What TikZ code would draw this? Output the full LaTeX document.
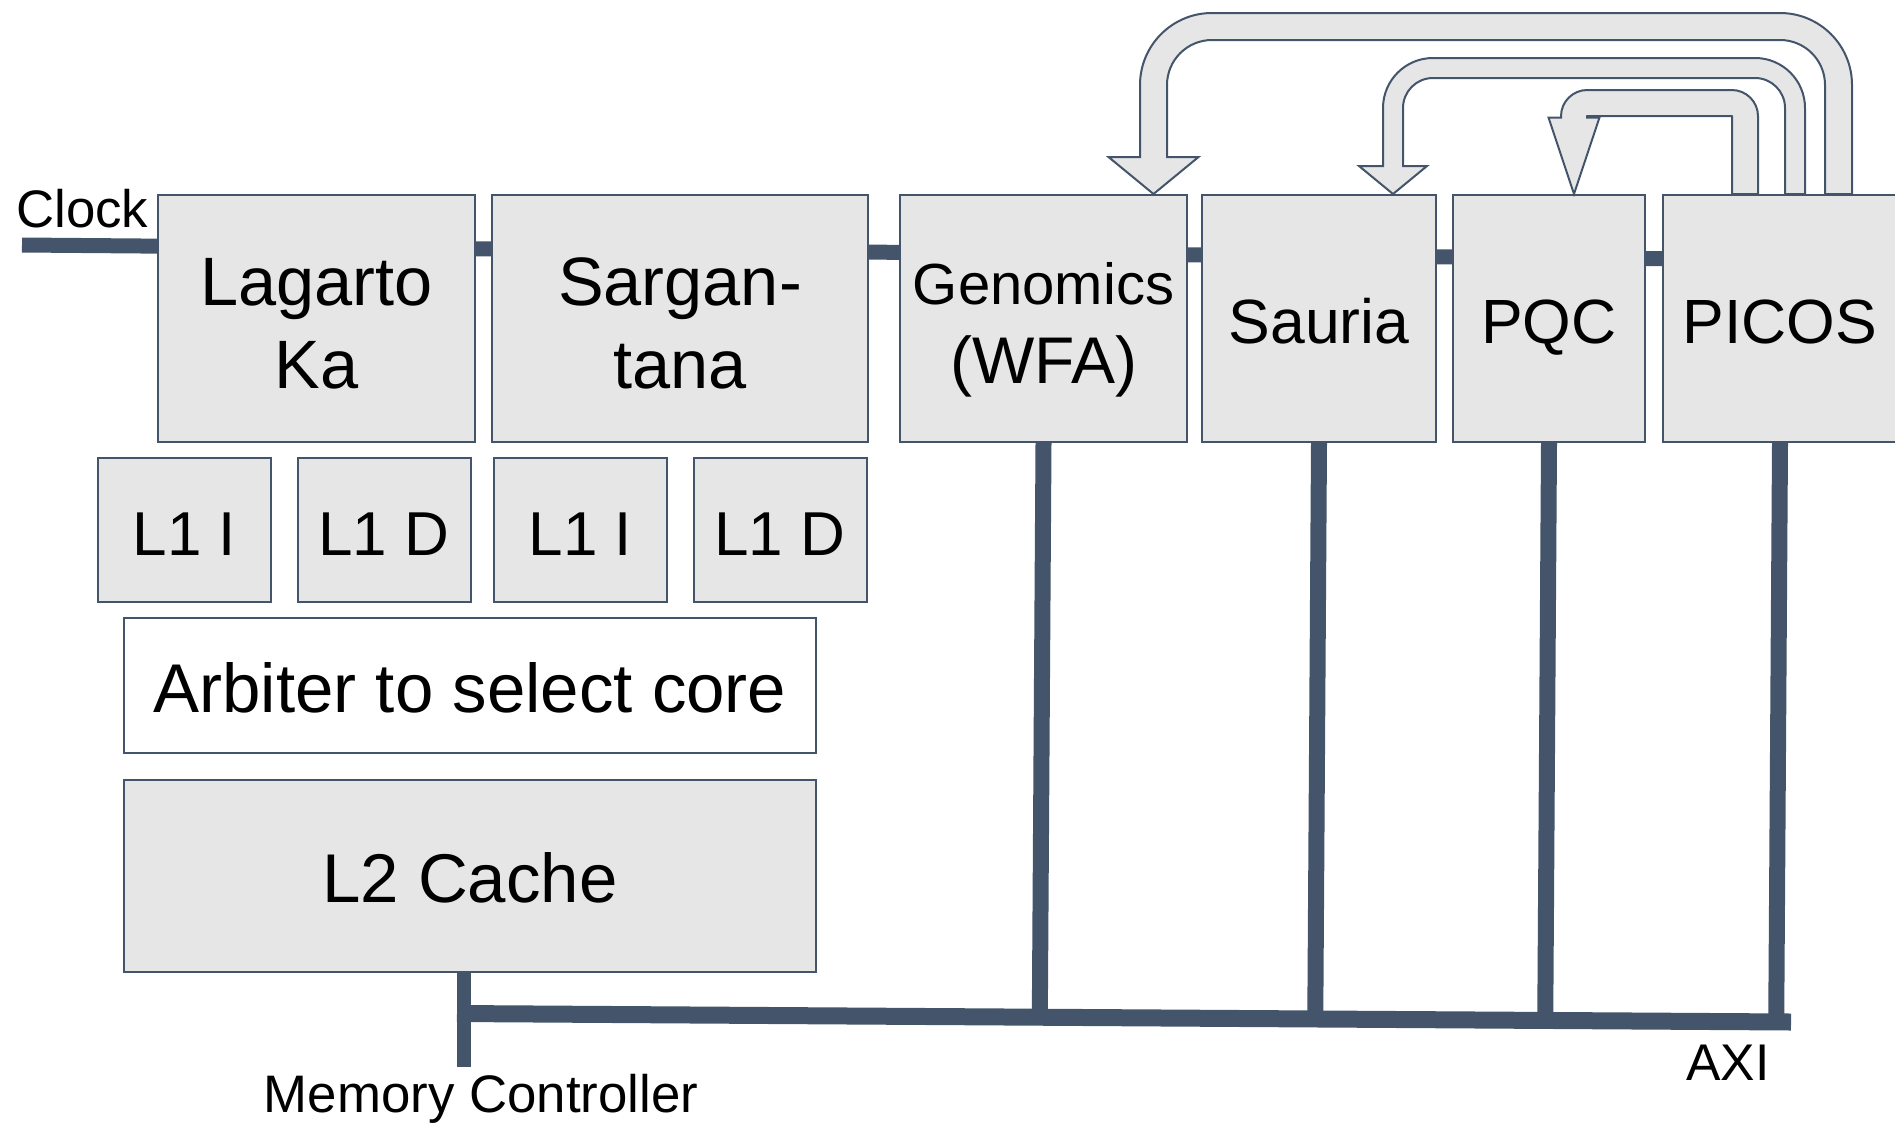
\documentclass[tikz,border=0pt]{standalone}
\usepackage{fontspec}
\setmainfont{Liberation Sans}
\definecolor{wire}{RGB}{68, 84, 106}
\definecolor{boxfill}{RGB}{230, 230, 230}
\usetikzlibrary{positioning,calc,backgrounds}

% U-turn block arrow: source node, target node, outer x at source, tip x,
% top y, shaft width, outer radius, head half width, head length
\newcommand{\uturn}[9]{%
  \draw[uarrow]
    (#3,0 |- #1.north) -- (#3,-#5-#7)
    arc[start angle=0, end angle=90, radius=#7]
    -- (#4-#6/2+#7,-#5)
    arc[start angle=90, end angle=180, radius=#7]
    -- ($(#4-#6/2,0 |- #2.north)+(0,#9)$)
    -- ++(-#8+#6/2,0)
    -- (#4,0 |- #2.north)
    -- ($(#4+#8,0 |- #2.north)+(0,#9)$)
    -- ++(-#8+#6/2,0)
    -- (#4+#6/2,-#5-#7)
    arc[start angle=180, end angle=90, radius=#7-#6]
    -- (#3-#7,-#5-#6)
    arc[start angle=90, end angle=0, radius=#7-#6]
    -- (#3-#6,0 |- #1.north)
    -- cycle;}

\begin{document}
\begin{tikzpicture}[x=0.5pt, y=0.5pt,
    blk/.style={draw=wire, fill=boxfill, line width=1pt, inner sep=0pt, align=center, minimum height=123.5pt},
    lift/.style={execute at begin node={\rule{0pt}{#1}}},
    core/.style={blk, font=\fontsize{34.25}{41.5}\selectfont},
    accel/.style={blk, lift=24.8pt, font=\fontsize{31.25}{37.5}\selectfont},
    cache/.style={blk, lift=25.8pt, minimum width=86.5pt, minimum height=72pt, font=\fontsize{31}{37}\selectfont},
    wide/.style={blk, minimum width=346pt, font=\fontsize{34.5}{41}\selectfont},
    lbl/.style={inner sep=0pt, font=\fontsize{26.4}{31}\selectfont},
    wireln/.style={draw=wire, line width=#1},
    uarrow/.style={draw=wire, fill=boxfill, line width=1pt, line join=miter}]
  \useasboundingbox (0,0) rectangle (1895,-1125);

  % Cores
  \node[core, minimum width=158.5pt] (lag) at (316.5,-318.5) {\rule{0pt}{29pt}Lagarto\\Ka};
  \node[core, minimum width=188pt] (sarg) at (680,-318.5) {\rule{0pt}{29pt}Sargan-\\tana};

  % Accelerators
  \node[blk, minimum width=143.5pt, font=\fontsize{33}{39.5}\selectfont] (gen) at (1043.5,-318.5) {\rule{0pt}{32pt}{\fontsize{29}{35}\selectfont Genomics}\\(WFA)};
  \node[accel, minimum width=117pt] (sau) at (1319,-318.5) {Sauria};
  \node[accel, lift=30.5pt, minimum width=96pt] (pqc) at (1549,-318.5) {PQC};
  \node[accel, minimum width=117pt] (pic) at (1780,-318.5) {PICOS};

  % L1 caches
  \node[cache] (l1i0) at (184.5,-530) {L1 I};
  \node[cache] (l1d0) at (384,-530) {L1 D};
  \node[cache] (l1i1) at (580.5,-530) {L1 I};
  \node[cache] (l1d1) at (780,-530) {L1 D};

  % Arbiter and L2
  \node[wide, lift=27.2pt, fill=white, minimum height=67.5pt] (arb) at (470,-685.5) {Arbiter to select core};
  \node[wide, lift=26.5pt, minimum height=96pt, below=12.5pt of arb] (l2) {L2 Cache};

  % Clock
  \coordinate (clk) at (22,-245);
  \node[lbl, anchor=base west] (clkl) at (16,-227) {Clock};
  \begin{scope}[on background layer]
    \draw[wireln=7.5pt] (clk) -- ($(pic.north west)!.26!(pic.south west)$);
  \end{scope}

  % AXI bus
  \coordinate (busL) at (457,-1013.5);
  \coordinate (busR) at (1791,-1022);
  \coordinate (mc) at (464,-1067);
  \foreach \n in {gen,sau,pqc,pic}
    \draw[wireln=8pt] (\n.south) -- ($(busL)!(\n.south)!(busR)$);
  \draw[wireln=8.5pt] (busL) -- (busR);
  \draw[wireln=7pt] (l2.south -| mc) -- (mc);
  \node[lbl, anchor=base] (mcl) at (481,-1112) {Memory Controller};
  \node[lbl, anchor=base, font=\fontsize{25.8}{31}\selectfont] (axil) at (1728,-1080) {AXI};

  % Hand-off arrows from PICOS
  \uturn{pic}{gen}{1852}{1153.5}{13}{27}{72}{45}{37}
  \uturn{pic}{sau}{1805}{1393}{58}{20}{50}{34}{28}
  \uturn{pic}{pqc}{1758}{1574}{90}{26}{26.2}{25.5}{76.5}
\end{tikzpicture}
\end{document}
